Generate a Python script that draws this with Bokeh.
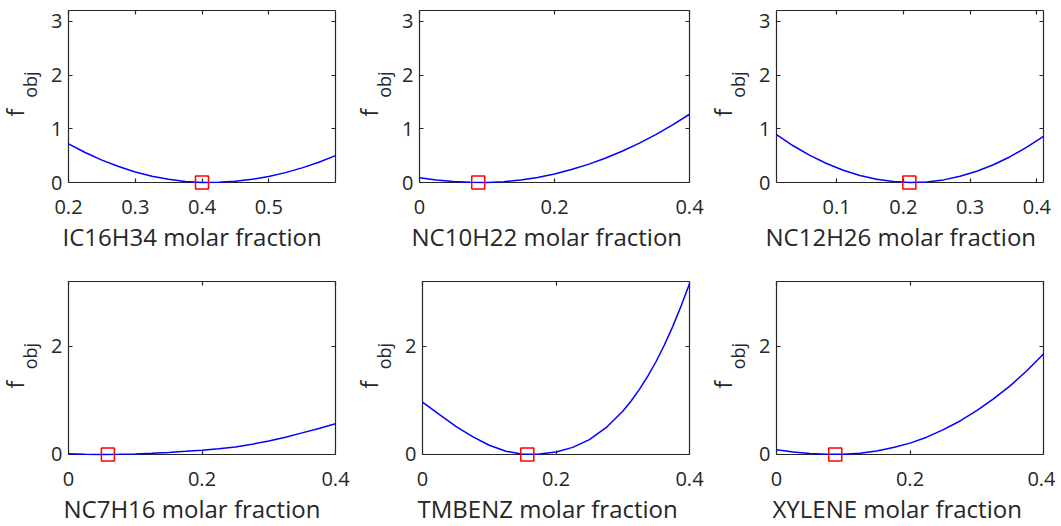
from bokeh.plotting import figure
from bokeh.models import (Range1d, FixedTicker, LinearAxis, Title,
                          CustomLabelingPolicy)
from bokeh.layouts import column, row
from bokeh.embed import file_html
from bokeh.resources import INLINE

# ---------------- data ----------------
species = ["IC16H34", "NC10H22", "NC12H26", "NC7H16", "TMBENZ", "XYLENE"]

x_ic16h34 = [0.2, 0.225, 0.25, 0.275, 0.3, 0.325, 0.35, 0.375, 0.4,
             0.425, 0.45, 0.475, 0.5, 0.525, 0.55, 0.575, 0.6]
f_ic16h34 = [0.72, 0.558, 0.417, 0.297, 0.197, 0.118, 0.059, 0.020, 0.002,
             0.003, 0.022, 0.059, 0.113, 0.184, 0.272, 0.378, 0.50]

x_nc10h22 = [0.0, 0.025, 0.05, 0.075, 0.1, 0.125, 0.15, 0.175, 0.2,
             0.225, 0.25, 0.275, 0.3, 0.325, 0.35, 0.375, 0.4]
f_nc10h22 = [0.09, 0.047, 0.018, 0.003, 0.001, 0.016, 0.048, 0.095, 0.160,
             0.241, 0.338, 0.452, 0.582, 0.729, 0.892, 1.072, 1.27]

x_nc12h26 = [0.01, 0.035, 0.06, 0.085, 0.11, 0.135, 0.16, 0.185, 0.21,
             0.235, 0.26, 0.285, 0.31, 0.335, 0.36, 0.385, 0.41]
f_nc12h26 = [0.89, 0.684, 0.506, 0.354, 0.229, 0.131, 0.061, 0.017, 0.000,
             0.011, 0.049, 0.115, 0.209, 0.330, 0.480, 0.657, 0.86]

x_nc7h16 = [0.0, 0.025, 0.05, 0.075, 0.1, 0.125, 0.15, 0.175, 0.2,
            0.225, 0.25, 0.275, 0.3, 0.325, 0.35, 0.375, 0.4]
f_nc7h16 = [0.012, 0.004, 0.001, 0.002, 0.009, 0.021, 0.038, 0.058, 0.080,
            0.107, 0.140, 0.190, 0.250, 0.320, 0.400, 0.480, 0.57]

x_tmbenz = [0.0, 0.025, 0.05, 0.075, 0.1, 0.125, 0.15, 0.175, 0.2,
            0.225, 0.25, 0.275, 0.3, 0.3125, 0.325, 0.3375, 0.35,
            0.3625, 0.375, 0.3875, 0.4]
f_tmbenz = [0.97, 0.74, 0.52, 0.33, 0.17, 0.06, 0.005, 0.007, 0.045,
            0.131, 0.276, 0.495, 0.80, 0.99, 1.205, 1.45, 1.72,
            2.03, 2.37, 2.75, 3.16]

x_xylene = [0.0, 0.025, 0.05, 0.075, 0.1, 0.125, 0.15, 0.175, 0.2,
            0.225, 0.25, 0.275, 0.3, 0.325, 0.35, 0.375, 0.4]
f_xylene = [0.086, 0.044, 0.016, 0.002, 0.002, 0.022, 0.065, 0.128, 0.21,
            0.32, 0.46, 0.62, 0.81, 1.03, 1.27, 1.55, 1.86]

# optimum (red squares)
opt_x = [0.40, 0.087, 0.209, 0.059, 0.157, 0.088]
opt_f = [0.0, 0.0, 0.0, 0.0, 0.0, 0.0]

x_limits = [(0.2, 0.6), (0.0, 0.4), (0.01, 0.41), (0.0, 0.4), (0.0, 0.4), (0.0, 0.4)]
x_ticks = [[0.2, 0.3, 0.4, 0.5], [0.0, 0.2, 0.4], [0.1, 0.2, 0.3, 0.4],
           [0.0, 0.2, 0.4], [0.0, 0.2, 0.4], [0.0, 0.2, 0.4]]
x_tick_labels = [["0.2", "0.3", "0.4", "0.5"], ["0", "0.2", "0.4"],
                 ["0.1", "0.2", "0.3", "0.4"], ["0", "0.2", "0.4"],
                 ["0", "0.2", "0.4"], ["0", "0.2", "0.4"]]
y_max = 3.2
y_ticks_top = [0, 1, 2, 3]
y_tick_labels_top = ["0", "1", "2", "3"]
y_ticks_bottom = [0, 2]
y_tick_labels_bottom = ["0", "2"]

xs = [x_ic16h34, x_nc10h22, x_nc12h26, x_nc7h16, x_tmbenz, x_xylene]
fs = [f_ic16h34, f_nc10h22, f_nc12h26, f_nc7h16, f_tmbenz, f_xylene]

# ---------------- layout / style ----------------
FONT = "Open Sans"
TXT = "#262626"
AX = "#262626"
Y_PAD = 0.167          # room below f=0 so the red squares are not cut
NBSP = "\u00a0"

widths = [350, 355, 350]
borders_lr = [[(68, 15), (69, 16), (71, 12)],
              [(68, 15), (72, 16), (71, 12)]]
heights = [256, 270]
borders_tb = [(10, 65), (25, 63)]
title_shift = [-6, -8, -11, -5, -5, -4]

hide_labels = CustomLabelingPolicy(
    code="for (const i of indices) { indices.unset(i) }\nreturn indices")


def style_axis(ax, ticks, labels, show_labels=True):
    ax.ticker = FixedTicker(ticks=ticks)
    ax.major_label_overrides = {t: l for t, l in zip(ticks, labels)}
    ax.minor_tick_line_color = None
    ax.major_tick_in = 4
    ax.major_tick_out = 0
    ax.major_tick_line_color = AX
    ax.major_tick_line_width = 1.2
    ax.axis_line_color = AX
    ax.axis_line_width = 1.2
    if show_labels:
        ax.major_label_text_font = FONT
        ax.major_label_text_font_size = "20px"
        ax.major_label_text_color = TXT
    else:
        ax.major_label_policy = hide_labels
        ax.major_label_text_font_size = "1px"
        ax.major_label_standoff = 0


panels = []
for i in range(6):
    r, c = divmod(i, 3)
    bl, br = borders_lr[r][c]
    bt, bb = borders_tb[r]
    p = figure(width=widths[c], height=heights[r], output_backend="svg",
               toolbar_location=None, tools="",
               x_range=Range1d(*x_limits[i]),
               y_range=Range1d(-Y_PAD, y_max))
    p.min_border_left = bl
    p.min_border_right = br
    p.min_border_top = bt
    p.min_border_bottom = bb
    p.background_fill_color = "white"
    p.border_fill_color = "white"
    p.outline_line_color = None
    p.xgrid.visible = False
    p.ygrid.visible = False

    yt = y_ticks_top if r == 0 else y_ticks_bottom
    yl = y_tick_labels_top if r == 0 else y_tick_labels_bottom

    # bottom axis line + ticks sit on f = 0
    xa = p.xaxis[0]
    style_axis(xa, x_ticks[i], x_tick_labels[i], show_labels=False)
    xa.fixed_location = 0

    # tick labels of the bottom axis (outside the frame)
    xl = LinearAxis()
    style_axis(xl, x_ticks[i], x_tick_labels[i])
    xl.axis_line_color = None
    xl.major_tick_line_color = None
    xl.major_label_standoff = 8
    p.add_layout(xl, "below")

    # empty spacer between tick labels and x title
    sp = LinearAxis()
    style_axis(sp, x_ticks[i], x_tick_labels[i], show_labels=False)
    sp.axis_line_color = None
    sp.major_tick_line_color = None
    sp.major_tick_in = 0
    sp.major_tick_out = 14
    p.add_layout(sp, "below")

    # left axis with the subscript part of the y label
    ya = p.yaxis[0]
    style_axis(ya, yt, yl)
    ya.bounds = (0, y_max)
    ya.major_label_standoff = 6
    ya.axis_label = NBSP * 7 + "obj"
    ya.axis_label_text_font = FONT
    ya.axis_label_text_font_size = "18px"
    ya.axis_label_text_font_style = "normal"
    ya.axis_label_text_color = TXT
    ya.axis_label_standoff = 3 if i == 1 else 6

    top_ax = LinearAxis()
    style_axis(top_ax, x_ticks[i], x_tick_labels[i], show_labels=False)
    p.add_layout(top_ax, "above")
    right_ax = LinearAxis(bounds=(0, y_max))
    style_axis(right_ax, yt, yl, show_labels=False)
    p.add_layout(right_ax, "right")

    # main "f" of the y label
    p.add_layout(Title(text="f", align="left", offset=75,
                       vertical_align="bottom", standoff=-30,
                       text_font=FONT, text_font_size="23px",
                       text_font_style="normal", text_color=TXT), "left")
    # x title
    p.add_layout(Title(text=species[i] + " molar fraction", align="left",
                       offset=title_shift[i], vertical_align="top",
                       standoff=-30, text_font=FONT, text_font_size="24px",
                       text_font_style="normal", text_color=TXT), "below")

    line = p.line(xs[i], fs[i], line_color="#0000FF", line_width=1.5)
    line.level = "overlay"
    sq = p.scatter([opt_x[i]], [opt_f[i]], marker="square", size=13,
                   fill_color=None, line_color="#FF0000", line_width=1.5)
    sq.level = "overlay"
    panels.append(p)

layout = column(row(*panels[:3]), row(*panels[3:]))
open("out.html", "w").write(file_html(layout, INLINE))
